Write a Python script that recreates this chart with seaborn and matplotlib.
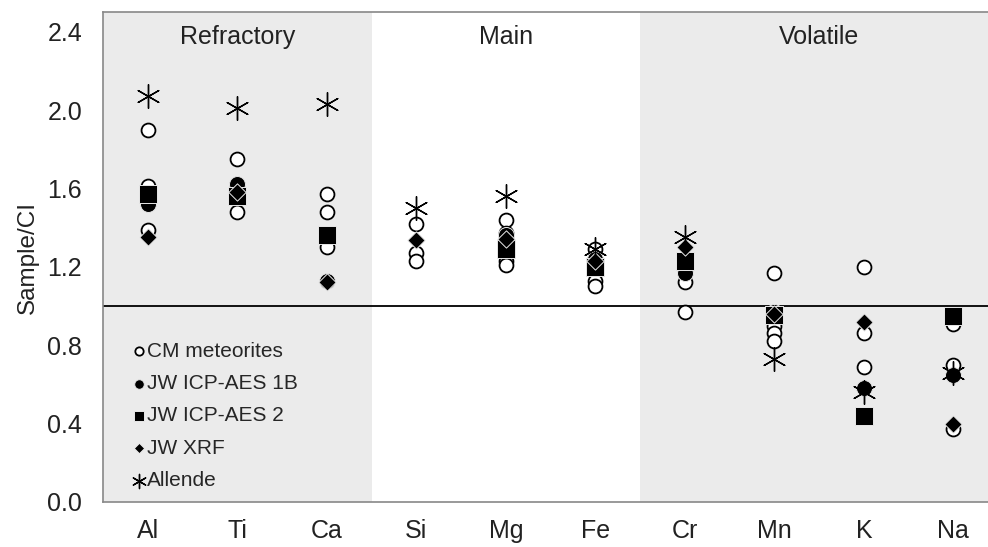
import matplotlib
matplotlib.use("Agg")
import matplotlib.pyplot as plt
from matplotlib.ticker import FixedLocator
import seaborn as sns
import pandas as pd

# Element order along the x axis
ELEMENTS = ["Al", "Ti", "Ca", "Si", "Mg", "Fe", "Cr", "Mn", "K", "Na"]

# CI-normalised abundances (Sample/CI)
CM_ELEMENTS = ["Al", "Al", "Al", "Al", "Ti", "Ti", "Ti", "Ca", "Ca", "Ca",
               "Si", "Si", "Si", "Mg", "Mg", "Mg", "Mg", "Fe", "Fe", "Fe",
               "Cr", "Cr", "Mn", "Mn", "Mn", "Mn", "K", "K", "K", "Na", "Na", "Na"]
CM_VALUES = [1.90, 1.61, 1.53, 1.39, 1.75, 1.62, 1.48, 1.57, 1.48, 1.30,
             1.42, 1.27, 1.23, 1.44, 1.37, 1.23, 1.21, 1.29, 1.13, 1.10,
             1.12, 0.97, 1.17, 0.90, 0.86, 0.82, 1.20, 0.86, 0.69, 0.91, 0.70, 0.37]

ICP_ELEMENTS = ["Al", "Ti", "Ca", "Mg", "Fe", "Cr", "Mn", "K", "Na"]
ICP1B_VALUES = [1.52, 1.62, 1.13, 1.36, 1.24, 1.17, 0.97, 0.58, 0.65]
ICP2_VALUES = [1.57, 1.56, 1.36, 1.29, 1.20, 1.23, 0.955, 0.44, 0.95]

XRF_VALUES = [1.35, 1.58, 1.12, 1.335, 1.34, 1.23, 1.30, 0.96, 0.92, 0.40]
ALLENDE_VALUES = [2.07, 2.01, 2.03, 1.50, 1.56, 1.29, 1.35, 0.73, 0.56, 0.66]

GROUPS = ["Refractory", "Main", "Volatile"]
GROUP_SPANS = [(-0.5, 2.5), (2.5, 5.5), (5.5, 9.5)]
GROUP_SHADED = [True, False, True]

Y_TICKS = [0.0, 0.4, 0.8, 1.2, 1.6, 2.0, 2.4]

frames = [
    pd.DataFrame({"element": CM_ELEMENTS, "value": CM_VALUES, "series": "CM meteorites"}),
    pd.DataFrame({"element": ICP_ELEMENTS, "value": ICP1B_VALUES, "series": "JW ICP-AES 1B"}),
    pd.DataFrame({"element": ICP_ELEMENTS, "value": ICP2_VALUES, "series": "JW ICP-AES 2"}),
    pd.DataFrame({"element": ELEMENTS, "value": XRF_VALUES, "series": "JW XRF"}),
    pd.DataFrame({"element": ELEMENTS, "value": ALLENDE_VALUES, "series": "Allende"}),
]
data = pd.concat(frames, ignore_index=True)

sns.set_style("white")
plt.rcParams["font.family"] = ["Liberation Sans", "DejaVu Sans"]

fig = plt.figure(figsize=(9.88, 5.47), dpi=100)
ax = fig.add_axes([0.1043, 0.0823, 0.9059, 0.8957])

# Shaded element groups
for (x0, x1), shaded in zip(GROUP_SPANS, GROUP_SHADED):
    if shaded:
        ax.axvspan(x0, x1, color="#ebebeb", lw=0, zorder=0)

styles = {
    "CM meteorites": dict(marker="o", size=10, color="white", edgecolor="black", linewidth=1.3),
    "JW ICP-AES 1B": dict(marker="o", size=11.5, color="black", edgecolor="#e8e8e8", linewidth=0.7),
    "JW ICP-AES 2": dict(marker="s", size=12.5, color="black", edgecolor="#e8e8e8", linewidth=0.7),
    "JW XRF": dict(marker="D", size=8.8, color="black", edgecolor="#e8e8e8", linewidth=0.7),
    "Allende": dict(marker=(6, 2, 0), size=17, color="black", linewidth=1.0),
}

for name, st in styles.items():
    sub = data[data["series"] == name]
    sns.stripplot(data=sub, x="element", y="value", order=ELEMENTS, jitter=False,
                  ax=ax, label=name, zorder=3, **st)

ax.axhline(1.0, color="black", lw=1.3, zorder=2)

for name, (x0, x1) in zip(GROUPS, GROUP_SPANS):
    ax.text((x0 + x1) / 2, 2.375, name, ha="center", va="center", fontsize=18, color="#222222")

ax.set_xlim(-0.5, 9.5)
ax.set_ylim(0, 2.5)
ax.set_yticks(Y_TICKS)
ax.set_yticklabels([f"{v:.1f}" for v in Y_TICKS])
ax.set_xticks(range(len(ELEMENTS)))
ax.set_xticklabels(ELEMENTS)
ax.xaxis.set_minor_locator(FixedLocator([i - 0.5 for i in range(len(ELEMENTS) + 1)]))
ax.tick_params(axis="x", which="major", length=0, pad=12, labelsize=18, colors="#222222")
ax.tick_params(axis="x", which="minor", length=6, width=1, color="#888888", direction="out")
ax.tick_params(axis="y", length=6, width=1, color="#888888", direction="out", labelsize=18,
               labelcolor="#222222", pad=9)
ax.set_xlabel("")
ax.set_ylabel("Sample/CI", fontsize=17.5, color="#222222", labelpad=6)

for side in ["left", "bottom", "top", "right"]:
    ax.spines[side].set_color("#888888")
    ax.spines[side].set_linewidth(1.2)

handles, labels = ax.get_legend_handles_labels()
seen = {}
for h, l in zip(handles, labels):
    if l not in seen:
        seen[l] = h
leg = ax.legend(list(seen.values()), list(seen.keys()), loc="upper left",
                bbox_to_anchor=(0.033, 0.327), frameon=False, fontsize=15,
                markerscale=0.6, handlelength=0.6, handletextpad=0.1,
                labelspacing=0.64, borderpad=0.0, borderaxespad=0.0)

fig.savefig("out.png", dpi=100)
